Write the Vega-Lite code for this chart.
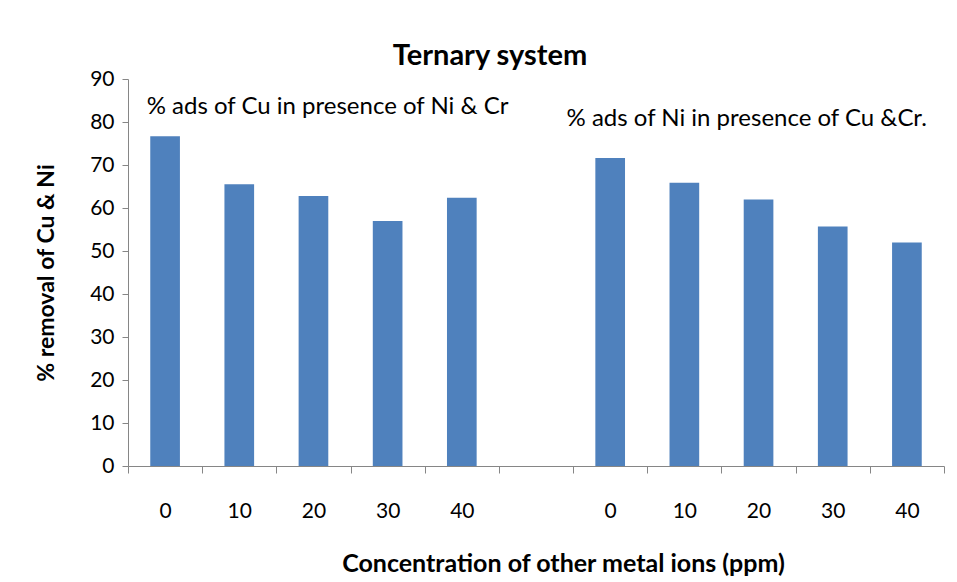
{
  "$schema": "https://vega.github.io/schema/vega-lite/v6.json",
  "width": 816,
  "height": 387,
  "autosize": {"type": "none"},
  "padding": {"left": 128, "top": 79, "right": 13, "bottom": 116},
  "background": "white",
  "config": {
    "font": "Lato",
    "view": {"stroke": null},
    "axis": {"grid": false, "domainColor": "#868686", "tickColor": "#868686", "labelColor": "#000000", "titleColor": "#000000", "labelFont": "Lato", "titleFont": "Lato"}
  },
  "title": {"text": "Ternary system", "fontSize": 29, "fontWeight": "bold", "font": "Lato", "color": "#000000", "dx": -46, "offset": -3},
  "datasets": {
    "bars": [
      {"cat": "A 0", "value": 76.7},
      {"cat": "A 10", "value": 65.5},
      {"cat": "A 20", "value": 62.8},
      {"cat": "A 30", "value": 57.0},
      {"cat": "A 40", "value": 62.4},
      {"cat": "B 0", "value": 71.6},
      {"cat": "B 10", "value": 65.9},
      {"cat": "B 20", "value": 62.0},
      {"cat": "B 30", "value": 55.7},
      {"cat": "B 40", "value": 52.0}
    ],
    "notes": [
      {"cat": "A 20", "value": 83.4, "label": "% ads of Cu in presence of Ni & Cr"},
      {"cat": "B 20", "value": 80.6, "label": "% ads of Ni in presence of Cu &Cr."}
    ]
  },
  "layer": [
    {
      "data": {"name": "bars"},
      "mark": {"type": "bar", "color": "#4F81BD", "width": {"band": 0.4}},
      "encoding": {
        "x": {
          "field": "cat", "type": "nominal",
          "scale": {"domain": ["A 0", "A 10", "A 20", "A 30", "A 40", "gap", "B 0", "B 10", "B 20", "B 30", "B 40"], "paddingInner": 0, "paddingOuter": 0},
          "axis": {
            "title": "Concentration of other metal ions (ppm)",
            "titleFontSize": 25, "titleFontWeight": "bold", "titlePadding": 30, "titleX": 435,
            "labelExpr": "datum.label == 'gap' ? '' : slice(datum.label, 2)",
            "labelAngle": 0, "labelFontSize": 21, "labelPadding": 27,
            "tickBand": "extent", "tickSize": 7
          }
        },
        "y": {
          "field": "value", "type": "quantitative",
          "scale": {"domain": [0, 90], "nice": false},
          "axis": {
            "title": "% removal of Cu & Ni",
            "titleFontSize": 23, "titleFontWeight": "bold", "titlePadding": 31,
            "values": [0, 10, 20, 30, 40, 50, 60, 70, 80, 90],
            "labelFontSize": 21, "labelPadding": 8, "tickSize": 6
          }
        }
      }
    },
    {
      "data": {"name": "notes"},
      "transform": [{"filter": "datum.cat == 'A 20'"}],
      "mark": {"type": "text", "align": "center", "baseline": "middle", "fontSize": 24, "font": "Lato", "color": "#000000"},
      "encoding": {
        "x": {"field": "cat", "type": "nominal", "bandPosition": 0.69},
        "y": {"field": "value", "type": "quantitative"},
        "text": {"field": "label"}
      }
    },
    {
      "data": {"name": "notes"},
      "transform": [{"filter": "datum.cat == 'B 20'"}],
      "mark": {"type": "text", "align": "center", "baseline": "middle", "fontSize": 24, "font": "Lato", "color": "#000000"},
      "encoding": {
        "x": {"field": "cat", "type": "nominal", "bandPosition": 0.34},
        "y": {"field": "value", "type": "quantitative"},
        "text": {"field": "label"}
      }
    }
  ]
}
